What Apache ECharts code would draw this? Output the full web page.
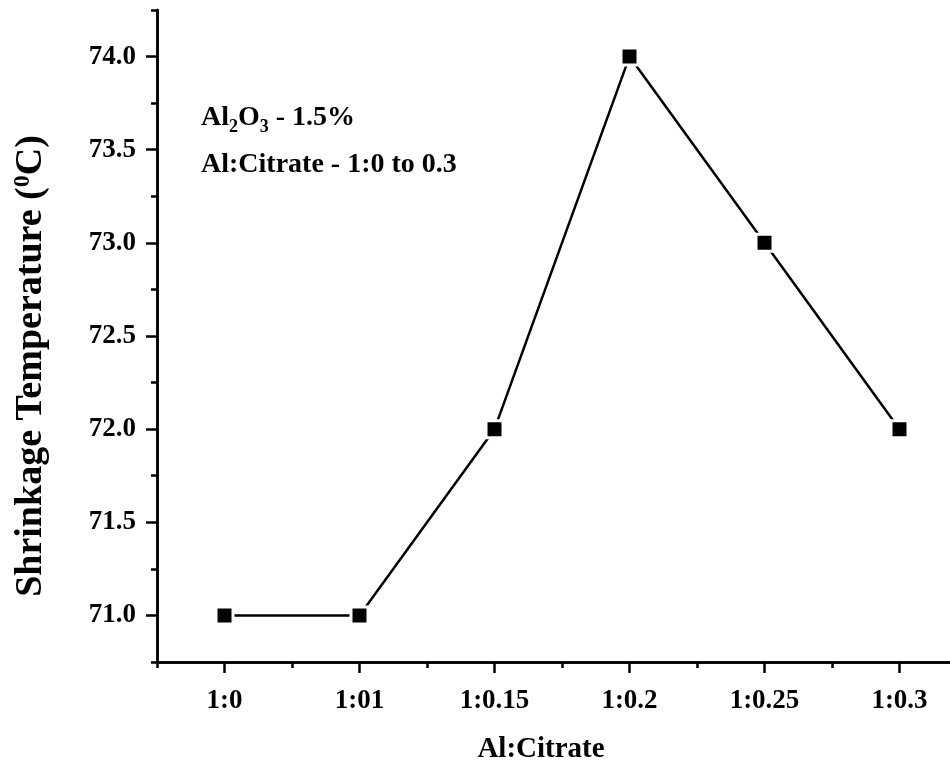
<!DOCTYPE html>
<html>
<head>
<meta charset="utf-8">
<script src="https://cdn.jsdelivr.net/npm/echarts@6/dist/echarts.min.js"></script>
<style>html,body{margin:0;padding:0;background:#fff}#c{width:950px;height:770px}</style>
</head>
<body>
<div id="c"></div>
<script>
const categories = ['1:0', '1:01', '1:0.15', '1:0.2', '1:0.25', '1:0.3'];
const shrinkTemp = [71.0, 71.0, 72.0, 74.0, 73.0, 72.0];
const yMajorTicks = [71.0, 71.5, 72.0, 72.5, 73.0, 73.5, 74.0];
const yMinorTicks = [70.75, 71.25, 71.75, 72.25, 72.75, 73.25, 73.75, 74.25];
const yMin = 70.75, yMax = 74.25;

const FONT = '"Liberation Serif", "Times New Roman", serif';
const chart = echarts.init(document.getElementById('c'), null, {renderer: 'canvas'});
const lbl = {fontFamily: FONT, fontWeight: 'bold', fontSize: 27, color: '#000'};
const axLine = {show: true, lineStyle: {color: '#000', width: 2.5}};

chart.setOption({
  backgroundColor: '#fff',
  animation: false,
  grid: {left: 157, top: 10, bottom: 108, width: 810, containLabel: false, outerBoundsMode: 'none'},
  xAxis: [{
    type: 'category', data: categories, boundaryGap: true,
    axisLine: axLine,
    axisTick: {show: true, alignWithLabel: true, length: 11, lineStyle: {color: '#000', width: 2.5}},
    axisLabel: Object.assign({margin: 26}, lbl),
    splitLine: {show: false}
  }, {
    type: 'category', data: categories, boundaryGap: true, position: 'bottom',
    axisLine: axLine,
    axisTick: {show: true, alignWithLabel: false, length: 6, lineStyle: {color: '#000', width: 2.5}},
    axisLabel: {show: false},
    splitLine: {show: false}
  }],
  yAxis: [{
    type: 'value', min: yMin, max: yMax,
    axisLine: axLine,
    axisTick: {show: true, customValues: yMajorTicks, length: 11, lineStyle: {color: '#000', width: 2.5}},
    axisLabel: Object.assign({customValues: yMajorTicks, margin: 21, formatter: v => v.toFixed(1)}, lbl),
    splitLine: {show: false}
  }, {
    type: 'value', min: yMin, max: yMax, position: 'left',
    axisLine: axLine,
    axisTick: {show: true, customValues: yMinorTicks, length: 6, lineStyle: {color: '#000', width: 2.5}},
    axisLabel: {show: false},
    splitLine: {show: false}
  }],
  graphic: [{
    type: 'text', x: 201, y: 118,
    style: {
      text: 'Al{sub|2}O{sub|3} - 1.5%',
      font: 'bold 28px ' + FONT, fill: '#000', verticalAlign: 'middle',
      rich: {sub: {fontFamily: FONT, fontWeight: 'bold', fontSize: 18, padding: [18, 0, 0, 0]}}
    }
  }, {
    type: 'text', x: 201, y: 165,
    style: {text: 'Al:Citrate - 1:0 to 0.3', font: 'bold 28px ' + FONT, fill: '#000', verticalAlign: 'middle'}
  }, {
    type: 'text', x: 31, y: 366, rotation: Math.PI / 2,
    style: {
      text: 'Shrinkage Temperature ({sup|0}C)',
      font: 'bold 38px ' + FONT, fill: '#000', align: 'center', verticalAlign: 'middle',
      rich: {sup: {fontFamily: FONT, fontWeight: 'bold', fontSize: 24, padding: [0, 0, 16, 0]}}
    }
  }, {
    type: 'text', x: 541, y: 750,
    style: {text: 'Al:Citrate', font: 'bold 29px ' + FONT, fill: '#000', align: 'center', verticalAlign: 'middle'}
  }],
  series: [{
    type: 'line', data: shrinkTemp, xAxisIndex: 0, yAxisIndex: 0,
    symbol: 'rect', symbolSize: 17,
    lineStyle: {color: '#000', width: 2.5},
    itemStyle: {color: '#000', borderColor: '#fff', borderWidth: 3},
    z: 5
  }]
});
</script>
</body>
</html>
